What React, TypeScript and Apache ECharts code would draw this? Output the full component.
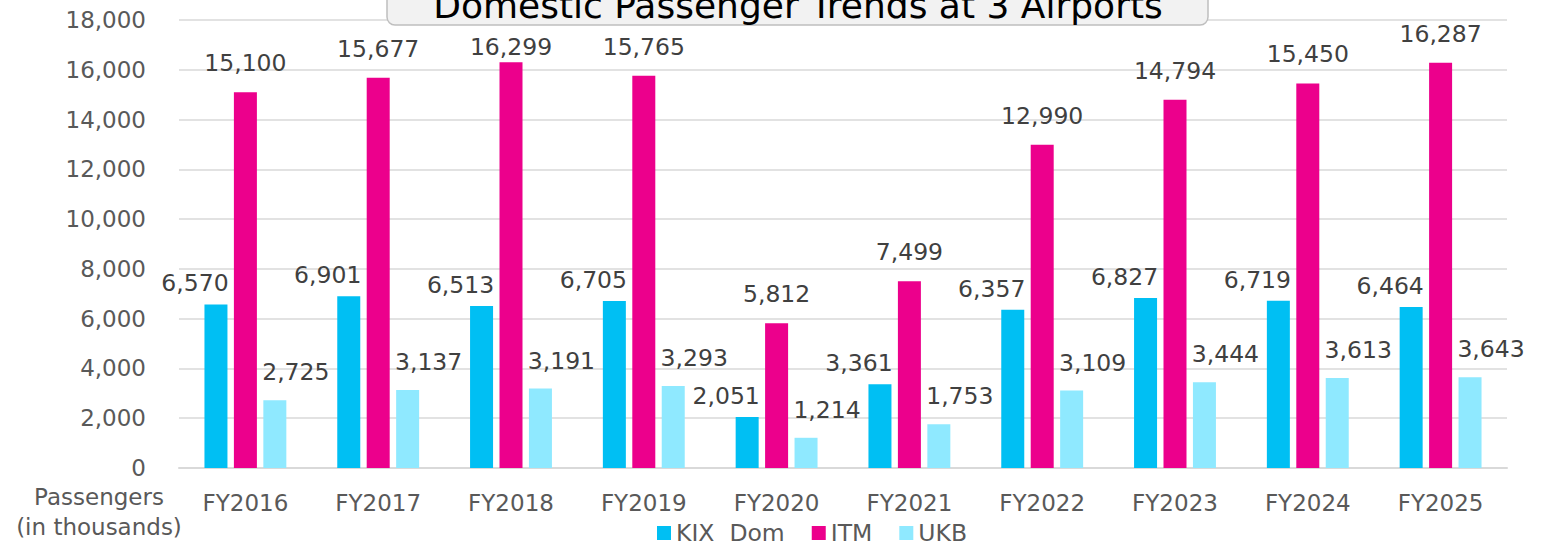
import React, { useEffect, useRef } from "react";
import * as echarts from "echarts";

const categories = ["FY2016", "FY2017", "FY2018", "FY2019", "FY2020", "FY2021", "FY2022", "FY2023", "FY2024", "FY2025"];
const kixDom = [6570, 6901, 6513, 6705, 2051, 3361, 6357, 6827, 6719, 6464];
const itm = [15100, 15677, 16299, 15765, 5812, 7499, 12990, 14794, 15450, 16287];
const ukb = [2725, 3137, 3191, 3293, 1214, 1753, 3109, 3444, 3613, 3643];
const seriesNames = ["KIX  Dom", "ITM", "UKB"];
const titleText = "Domestic Passenger Trends at 3 Airports";
const yAxisName = "Passengers\n(in thousands)";

const FONT = "DejaVu Sans";
const fmt = (v: number) => v.toLocaleString("en-US");

export default function App() {
  const ref = useRef<HTMLDivElement>(null);
  useEffect(() => {
    if (!ref.current) return;
    const chart = echarts.init(ref.current, null, { renderer: "svg" });
    const labelBase = {
      show: true,
      position: "top" as const,
      fontFamily: FONT,
      fontSize: 23.5,
      color: "#404040",
      formatter: (p: any) => fmt(p.value),
    };
    // the ITM label under the title box sits closer to its bar (as in the reference)
    const titleCategory = categories.indexOf("FY2018");
    const itmData = itm.map((v, i) =>
      i === titleCategory ? { value: v, label: { distance: 3 } } : v
    );
    chart.setOption({
      animation: false,
      textStyle: { fontFamily: FONT },
      grid: { left: 179, right: 39, top: 20, bottom: 78, containLabel: false },
      legend: {
        left: 652,
        top: 516,
        padding: [5, 5, 2, 5],
        itemWidth: 14,
        itemHeight: 14,
        itemGap: 27,
        icon: "rect",
        textStyle: { fontFamily: FONT, fontSize: 23.5, lineHeight: 24, color: "#595959" },
        data: seriesNames,
      },
      xAxis: {
        type: "category",
        data: categories,
        axisLine: { lineStyle: { color: "#d9d9d9", width: 2 } },
        axisTick: { show: false },
        axisLabel: { fontFamily: FONT, fontSize: 23, color: "#595959", margin: 23 },
      },
      yAxis: {
        type: "value",
        min: 0,
        max: 18000,
        interval: 2000,
        axisLine: { show: false },
        axisTick: { show: false },
        splitLine: { lineStyle: { color: "#d9d9d9", width: 1.5 } },
        axisLabel: {
          fontFamily: FONT,
          fontSize: 23,
          color: "#595959",
          margin: 33,
          formatter: (v: number) => fmt(v),
        },
      },
      series: [
        {
          name: seriesNames[0],
          type: "bar",
          data: kixDom,
          barWidth: 23,
          barGap: "28%",
          itemStyle: { color: "#00BFF3" },
          label: { ...labelBase, distance: 9, offset: [-21, 0] },
        },
        {
          name: seriesNames[1],
          type: "bar",
          data: itmData,
          barWidth: 23,
          barGap: "28%",
          itemStyle: { color: "#EC008C" },
          label: { ...labelBase, distance: 17, offset: [0, 0] },
        },
        {
          name: seriesNames[2],
          type: "bar",
          data: ukb,
          barWidth: 23,
          barGap: "28%",
          itemStyle: { color: "#8FE9FF" },
          label: { ...labelBase, distance: 16, offset: [21, 0] },
        },
      ],
      graphic: [
        {
          type: "rect",
          z: 100,
          shape: { x: 387, y: -20, width: 821, height: 45, r: 8 },
          style: { fill: "#f2f2f2", stroke: "#bfbfbf", lineWidth: 1.5 },
        },
        {
          type: "text",
          z: 101,
          x: 798,
          y: 23,
          style: {
            text: titleText,
            fontFamily: FONT,
            fontSize: 36,
            fill: "#000000",
            align: "center",
            verticalAlign: "bottom",
          },
        },
        {
          type: "text",
          x: 99,
          y: 482,
          style: {
            text: yAxisName,
            fontFamily: FONT,
            fontSize: 23,
            lineHeight: 30,
            fill: "#595959",
            align: "center",
            verticalAlign: "top",
          },
        },
      ],
    });
    return () => chart.dispose();
  }, []);
  return (
    <div
      ref={ref}
      style={{ position: "fixed", left: 0, top: 0, width: 1546, height: 546, background: "#fff" }}
    />
  );
}
